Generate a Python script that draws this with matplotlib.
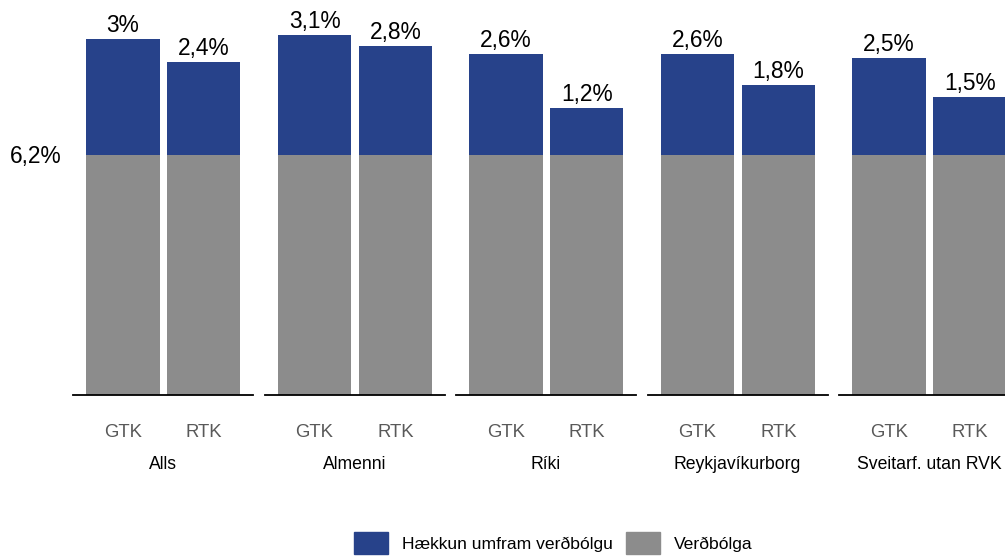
import matplotlib.pyplot as plt
from matplotlib.patches import Patch

plt.rcParams['font.family'] = ['Liberation Sans', 'DejaVu Sans']

groups = ["Alls", "Almenni", "Ríki", "Reykjavíkurborg", "Sveitarf. utan RVK"]
bar_labels = ["GTK", "RTK"]
verdbolga = 6.2
umfram_gtk = [3.0, 3.1, 2.6, 2.6, 2.5]
umfram_rtk = [2.4, 2.8, 1.2, 1.8, 1.5]

blue = "#27428a"
grey = "#8c8c8c"

def fmt(v):
    s = f"{v:.1f}".rstrip("0").rstrip(".")
    return s.replace(".", ",") + "%"

W, H = 1005, 557
fig = plt.figure(figsize=(W / 100, H / 100), dpi=100)
fig.set_facecolor("white")

base_px = 395
panel_w = 180
x0 = 73
pitch = 191.5

for i, g in enumerate(groups):
    left = x0 + i * pitch
    ax = fig.add_axes([left / W, (H - base_px) / H, panel_w / W, base_px / H])
    vals = [umfram_gtk[i], umfram_rtk[i]]
    xs = [0, 1]
    ax.bar(xs, [verdbolga] * 2, width=0.91, color=grey, edgecolor="none")
    ax.bar(xs, vals, bottom=verdbolga, width=0.91, color=blue, edgecolor="none")
    for x, v in zip(xs, vals):
        ax.text(x, verdbolga + v + 0.18, fmt(v), ha="center", va="baseline",
                fontsize=16.4, color="black")
    ax.set_xlim(-0.62, 1.61)
    ax.set_ylim(0, 10.2)
    for s in ["top", "right", "left"]:
        ax.spines[s].set_visible(False)
    ax.spines["bottom"].set_linewidth(1.3)
    ax.set_yticks([])
    ax.set_xticks(xs)
    ax.set_xticklabels(bar_labels, fontsize=13.3, color="#595959")
    ax.tick_params(axis="x", length=0, pad=21)
    ax.set_xlabel(g, fontsize=12.7, color="black", labelpad=11)
    ax.patch.set_visible(False)

fig.text(36 / W, 1 - 157 / H, "6,2%", ha="center", va="center", fontsize=16.4)

handles = [Patch(color=blue, label="Hækkun umfram verðbólgu"),
           Patch(color=grey, label="Verðbólga")]
fig.legend(handles=handles, loc="center", bbox_to_anchor=(553 / W, 1 - 543 / H),
           ncol=2, frameon=False, fontsize=12.6, handlelength=1.95, handleheight=1.55,
           handletextpad=0.8, columnspacing=0.75)

fig.savefig("out.png", dpi=100)
